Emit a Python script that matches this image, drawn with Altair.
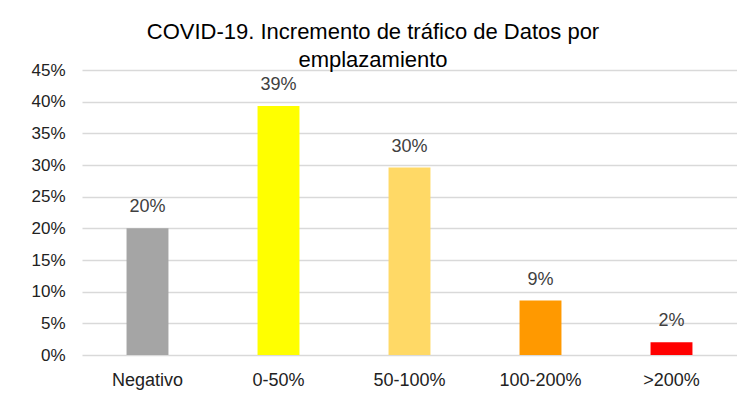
import altair as alt
import pandas as pd

categories = ["Negativo", "0-50%", "50-100%", "100-200%", ">200%"]
values = [0.20, 0.393, 0.296, 0.086, 0.020]
labels = ["20%", "39%", "30%", "9%", "2%"]
colors = ["#A5A5A5", "#FFFF00", "#FFD966", "#FF9900", "#FF0000"]
y_ticks = [0, 0.05, 0.10, 0.15, 0.20, 0.25, 0.30, 0.35, 0.40, 0.45]

df = pd.DataFrame({"cat": categories, "val": values, "lab": labels})

FONT = "Liberation Sans"

x_enc = alt.X("cat:N", sort=categories, title=None,
              scale=alt.Scale(paddingInner=0.68, paddingOuter=0.34),
              axis=alt.Axis(labelAngle=0, labelFontSize=18, labelColor="#222222",
                            labelFont=FONT, ticks=False, domain=False, labelPadding=16))
y_enc = alt.Y("val:Q", title=None,
              scale=alt.Scale(domain=[0, 0.45], nice=False),
              axis=alt.Axis(values=y_ticks, format=".0%", labelFontSize=17,
                            labelColor="#222222", labelFont=FONT, ticks=False,
                            domain=False, gridColor="#D9D9D9", gridWidth=1.5,
                            labelPadding=17, labelOverlap=False))

base = alt.Chart(df).encode(x=x_enc, y=y_enc)

bars = base.mark_bar().encode(
    color=alt.Color("cat:N", sort=categories,
                    scale=alt.Scale(domain=categories, range=colors), legend=None),
)

text = base.mark_text(dy=-12, fontSize=18, color="#404040", font=FONT,
                      baseline="bottom").encode(text="lab:N")

chart = (bars + text).properties(
    width=729,
    height=383,
    autosize=alt.AutoSizeParams(type="fit", contains="padding"),
    padding={"left": 22, "right": 0, "top": 13, "bottom": 2},
    title=alt.TitleParams(
        text=["COVID-19. Incremento de tráfico de Datos por", "emplazamiento"],
        fontSize=22, font=FONT, fontWeight="normal", color="#000000",
        anchor="middle", frame="bounds", lineHeight=28, offset=-11, dx=-11,
    ),
).configure_view(stroke=None)

chart.save("out.html", embed_options={"renderer": "svg", "actions": False})
